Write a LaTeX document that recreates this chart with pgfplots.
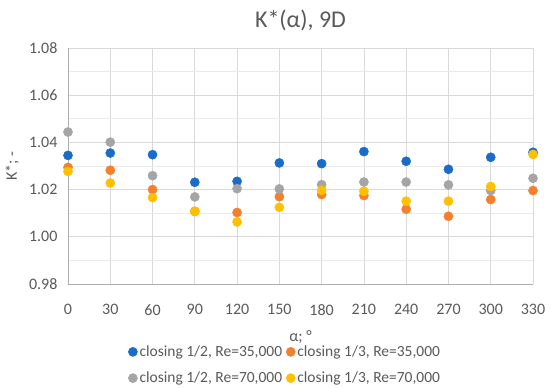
\documentclass[border=0pt]{standalone}
\usepackage{pgfplots}
\pgfplotsset{compat=1.18}
\usepackage{fontspec}
\setmainfont{Carlito}
\definecolor{cblue}{HTML}{1A6CC8}
\definecolor{corange}{HTML}{F57F2A}
\definecolor{cgray}{HTML}{A5A5A5}
\definecolor{cyellow}{HTML}{FFC000}
\definecolor{txt}{HTML}{595959}
\definecolor{gridc}{HTML}{D9D9D9}
\begin{document}
\begin{tikzpicture}[x=1pt,y=1pt]
\begin{axis}[
  at={(0,0)}, anchor=south west,
  scale only axis, width=465pt, height=236pt,
  xmin=0, xmax=330, ymin=0.98, ymax=1.08,
  xtick={0,30,...,330},
  ytick={0.98,1.00,1.02,1.04,1.06,1.08},
  minor ytick={0.99,1.01,1.03,1.05,1.07},
  yticklabel style={/pgf/number format/fixed,/pgf/number format/fixed zerofill,/pgf/number format/precision=2, xshift=-7pt},
  /pgf/number format/assume math mode=true,
  grid=both,
  major grid style={gridc, line width=0.8pt},
  minor grid style={gridc!55, line width=0.8pt},
  axis x line*=bottom, axis y line*=left,
  axis line style={gridc!80!black, line width=0.8pt},
  major tick length=0pt, minor tick length=0pt,
  tick label style={font=\fontsize{16}{18}\selectfont, text=txt},
  xticklabel style={yshift=-17pt},
  title={K*(α), 9D},
  title style={font=\fontsize{24}{26}\selectfont, text=txt, at={(0.5,1)}, anchor=center, yshift=22pt},
  xlabel={α; °},
  xlabel style={font=\fontsize{16}{18}\selectfont, text=txt, at={(0.5,0)}, anchor=center, yshift=-53pt},
  ylabel={K*; -},
  ylabel style={font=\fontsize{16}{18}\selectfont, text=txt, at={(axis description cs:-0.120,0.5)}, anchor=center, rotate=0},
  clip=false,
  legend columns=2,
  legend style={at={(0.467,0)}, anchor=center, yshift=-81pt, draw=none, fill=none,
    font=\fontsize{15.5}{17}\selectfont, text=txt,
    /tikz/every even column/.append style={column sep=2pt},
    row sep=10pt, inner sep=0pt},
  legend cell align=left,
  legend image code/.code={\draw[#1] plot coordinates {(0.15cm,0cm)};},
]
\addplot[only marks, mark=*, mark size=4.6pt, mark options={draw=cblue, fill=cblue}] coordinates {
(0,1.0345) (30,1.0355) (60,1.0348) (90,1.0231) (120,1.0235) (150,1.0313)
(180,1.0310) (210,1.0361) (240,1.0320) (270,1.0286) (300,1.0337) (330,1.0358)};
\addlegendentry{closing 1/2, Re=35,000}
\addplot[only marks, mark=*, mark size=4.6pt, mark options={draw=corange, fill=corange}] coordinates {
(0,1.0294) (30,1.0282) (60,1.0200) (90,1.0108) (120,1.0103) (150,1.0170)
(180,1.0179) (210,1.0175) (240,1.0117) (270,1.0087) (300,1.0158) (330,1.0196)};
\addlegendentry{closing 1/3, Re=35,000}
\addplot[only marks, mark=*, mark size=4.6pt, mark options={draw=cgray, fill=cgray}] coordinates {
(0,1.0444) (30,1.0401) (60,1.0259) (90,1.0169) (120,1.0204) (150,1.0203)
(180,1.0221) (210,1.0232) (240,1.0232) (270,1.0220) (300,1.0196) (330,1.0248)};
\addlegendentry{closing 1/2, Re=70,000}
\addplot[only marks, mark=*, mark size=4.6pt, mark options={draw=cyellow, fill=cyellow}] coordinates {
(0,1.0277) (30,1.0228) (60,1.0166) (90,1.0107) (120,1.0063) (150,1.0125)
(180,1.0197) (210,1.0193) (240,1.0151) (270,1.0151) (300,1.0213) (330,1.0349)};
\addlegendentry{closing 1/3, Re=70,000}
\end{axis}
\pgfresetboundingbox
\useasboundingbox (-68,-104) rectangle (482,284);
\end{tikzpicture}
\end{document}
